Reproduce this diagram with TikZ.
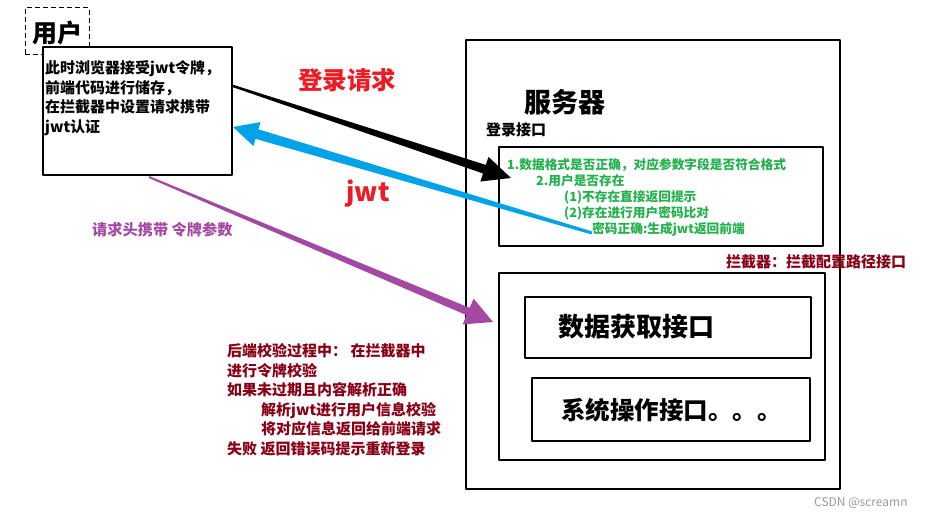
\documentclass[tikz,border=0pt]{standalone}
\usepackage{fontspec}
\setmainfont{Noto Sans CJK SC}
\usetikzlibrary{calc}

\definecolor{reqred}{RGB}{237,28,36}
\definecolor{jwtblue}{RGB}{0,162,232}
\definecolor{hdrpurple}{RGB}{163,73,164}
\definecolor{chkgreen}{RGB}{34,177,76}
\definecolor{notered}{RGB}{136,0,21}

% tapered arrow: colour, from, to, half width at start, half width at head, head length, head half width
\newcommand{\fatarrow}[7]{%
  \coordinate (hb) at ($(#3)!#6!(#2)$);
  \fill[#1] ($(#2)!#4!90:(#3)$) -- ($(hb)!#5!90:(#3)$) -- ($(hb)!#7!90:(#3)$) -- (#3)
    -- ($(hb)!#7!-90:(#3)$) -- ($(hb)!#5!-90:(#3)$) -- ($(#2)!#4!-90:(#3)$) -- cycle;}

\begin{document}
\begin{tikzpicture}[x=1pt, y=-1pt, line join=round,
    box/.style={draw, line width=2pt, inner sep=0pt},
    txt/.style={inner sep=0pt, font=\bfseries\fontsize{15}{19.5}\selectfont, align=left}]
  \useasboundingbox (0,0) rectangle (926,518);

  % user side
  \node[draw, dashed, line width=1pt, dash pattern=on 5pt off 3pt, minimum width=64pt, minimum height=47pt, inner sep=0pt] (userlabel) at (57,31.5) {};
  \node[inner sep=0pt, font=\bfseries\fontsize{25}{25}\selectfont] (usertitle) at (57,33) {用户};
  \node[box, fill=white, minimum width=189pt, minimum height=128pt] (user) at (137.5,111) {};
  \node[txt, anchor=north west] (usertext) at (45,60.5) {此时浏览器接受jwt令牌，\\前端代码进行储存，\\在拦截器中设置请求携带\\jwt认证};

  % server side
  \node[box, minimum width=374pt, minimum height=449pt] (server) at (653,264.5) {};
  \node[inner sep=0pt, font=\bfseries\fontsize{27}{27}\selectfont] (servertitle) at (565,102) {服务器};
  \node[txt, anchor=west] (loginlabel) at (486,130) {登录接口};
  \node[box, minimum width=324pt, minimum height=99pt] (login) at (661,196.5) {};
  \node[txt, anchor=north west, text=chkgreen, font=\bfseries\fontsize{12.7}{16}\selectfont] (checks) at (507,158.5)
    {1.数据格式是否正确，对应参数字段是否符合格式\\
     \hspace*{29pt}2.用户是否存在\\
     \hspace*{57pt}(1)不存在直接返回提示\\
     \hspace*{57pt}(2)存在进行用户密码比对\\
     \hspace*{85pt}密码正确:生成jwt返回前端};
  \node[txt, anchor=west, text=notered, font=\bfseries\fontsize{15}{15}\selectfont] (interlabel) at (726,262) {拦截器：拦截配置路径接口};
  \node[box, minimum width=326pt, minimum height=187pt] (inter) at (662,366.5) {};
  \node[box, minimum width=286pt, minimum height=61pt] (fetch) at (668,327.5) {};
  \node[txt, anchor=west, font=\bfseries\fontsize{26}{26}\selectfont] (fetchtext) at (558,327) {数据获取接口};
  \node[box, minimum width=278pt, minimum height=63pt] (ops) at (671,409.5) {};
  \node[txt, anchor=west, font=\bfseries\fontsize{24.5}{24.5}\selectfont] (opstext) at (561,410) {系统操作接口。。。};

  % connectors
  \coordinate (reqfrom) at (user.east |- 0,86);
  \coordinate (reqto) at (511,178);
  \coordinate (jwtfrom) at (592,233);
  \coordinate (jwtto) at (user.east |- 0,127);
  \coordinate (hdrfrom) at (149,177);
  \coordinate (hdrto) at (493,322);
  \fatarrow{black}{reqfrom}{reqto}{1.2pt}{4.5pt}{28pt}{13pt}
  \fatarrow{jwtblue}{jwtfrom}{jwtto}{1.5pt}{5pt}{25pt}{12.5pt}
  \fatarrow{hdrpurple}{hdrfrom}{hdrto}{1pt}{4pt}{27pt}{14pt}

  % labels
  \node[inner sep=0pt, text=reqred, font=\bfseries\fontsize{24.5}{24.5}\selectfont] (reqlabel) at (347,80) {登录请求};
  \node[inner sep=0pt, anchor=base, text=reqred, font=\bfseries\fontsize{26}{26}\selectfont] (jwtlabel) at (368,202) {jwt};
  \node[txt, anchor=west, text=hdrpurple, font=\bfseries\fontsize{15.2}{15.2}\selectfont] (hdrlabel) at (92,230) {请求头携带 令牌参数};
  \node[txt, anchor=north west, text=notered] (backend) at (227,343.5)
    {后端校验过程中： 在拦截器中\\
     进行令牌校验\\
     如果未过期且内容解析正确\\
     \hspace*{34pt}解析jwt进行用户信息校验\\
     \hspace*{34pt}将对应信息返回给前端请求\\
     失败 返回错误码提示重新登录};
  \node[inner sep=0pt, anchor=west, text=black!40, font=\fontsize{12}{12}\selectfont] (mark) at (814,503) {CSDN @screamn};
\end{tikzpicture}
\end{document}
